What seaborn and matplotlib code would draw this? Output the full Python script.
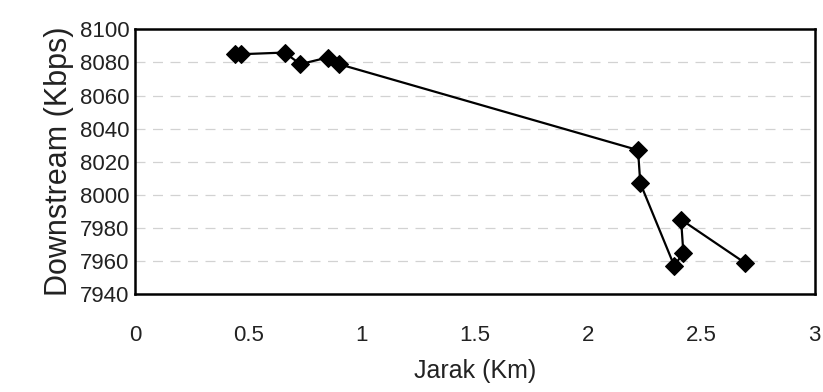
import matplotlib
matplotlib.use("Agg")
import matplotlib.pyplot as plt
import seaborn as sns
import pandas as pd

# Measured downstream rate against distance (in measurement order)
jarak_km = [0.44, 0.47, 0.66, 0.73, 0.85, 0.90, 2.22, 2.23, 2.38, 2.42, 2.41, 2.69]
downstream_kbps = [8085, 8085, 8086, 8079, 8083, 8079, 8027, 8007, 7957, 7965, 7985, 7959]

x_ticks = [0, 0.5, 1, 1.5, 2, 2.5, 3]
x_tick_labels = ["0", "0.5", "1", "1.5", "2", "2.5", "3"]
y_ticks = [7940, 7960, 7980, 8000, 8020, 8040, 8060, 8080, 8100]

df = pd.DataFrame({"Jarak": jarak_km, "Downstream": downstream_kbps})

sns.set_theme(style="white")
plt.rcParams["font.family"] = ["Liberation Sans", "DejaVu Sans"]

fig = plt.figure(figsize=(8.23, 3.92), dpi=100)
ax = fig.add_axes([0.164, 0.25, 0.826, 0.675])

ax.grid(False)
for yv in y_ticks[1:-1]:
    ax.axhline(yv, color="#d2d2d2", lw=0.9, ls=(0, (8, 6)), zorder=0)

sns.lineplot(data=df, x="Jarak", y="Downstream", sort=False, estimator=None,
             color="black", lw=1.6, marker="D", markersize=9.5,
             markeredgecolor="black", markerfacecolor="black", ax=ax)

ax.set_xlim(0, 3)
ax.set_ylim(7940, 8100)
ax.set_xticks(x_ticks)
ax.set_xticklabels(x_tick_labels)
ax.set_yticks(y_ticks)
ax.tick_params(axis="both", length=0, labelsize=16, colors="#222222")
ax.tick_params(axis="x", pad=22)
ax.tick_params(axis="y", pad=4)

for side in ["left", "right", "top", "bottom"]:
    ax.spines[side].set_visible(True)
    ax.spines[side].set_color("black")
    ax.spines[side].set_linewidth(1.8)

ax.set_xlabel("Jarak (Km)", fontsize=18, color="#222222", labelpad=10)
ax.set_ylabel("Downstream (Kbps)", fontsize=22, color="#222222", labelpad=4)

fig.savefig("out.png", dpi=100, facecolor="white")
